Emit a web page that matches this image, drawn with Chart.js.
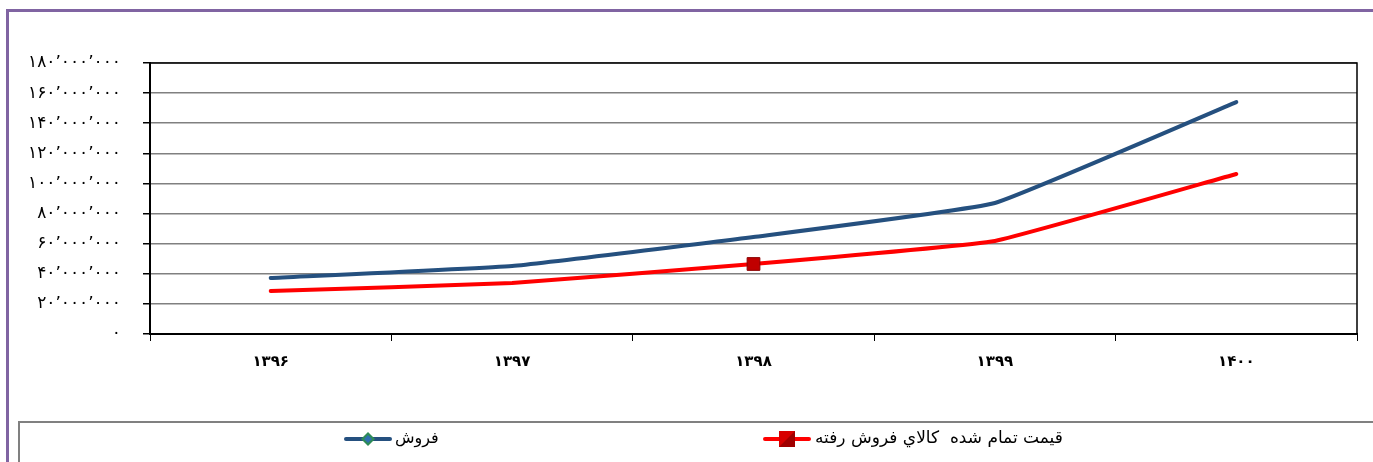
<!DOCTYPE html>
<html>
<head>
<meta charset="utf-8">
<script src="https://cdn.jsdelivr.net/npm/chart.js@4/dist/chart.umd.min.js"></script>
<style>
    html, body { margin: 0; padding: 0; background: #fff; }
    #wrap { position: relative; width: 1373px; height: 462px; overflow: hidden; }
    #frame { position: absolute; left: 6px; top: 9px; width: 1400px; height: 500px;
             border-left: 3px solid #8064A2; border-top: 3px solid #8064A2; }
    canvas { position: absolute; left: 0; top: 0; }
</style>
</head>
<body>
<div id="wrap">
    <div id="frame"></div>
    <canvas id="chart" width="1373" height="462"></canvas>
</div>
<script>
const years = ['۱۳۹۶', '۱۳۹۷', '۱۳۹۸', '۱۳۹۹', '۱۴۰۰'];
const sales = [37200000, 45200000, 64400000, 87000000, 154000000];
const costOfSales = [28600000, 33900000, 46500000, 61800000, 106300000];
const salesLabel = 'فروش';
const costLabel = 'قيمت تمام شده  كالاي فروش رفته';
const yTickLabels = ['۰', '۲۰٬۰۰۰٬۰۰۰', '۴۰٬۰۰۰٬۰۰۰', '۶۰٬۰۰۰٬۰۰۰', '۸۰٬۰۰۰٬۰۰۰',
    '۱۰۰٬۰۰۰٬۰۰۰', '۱۲۰٬۰۰۰٬۰۰۰', '۱۴۰٬۰۰۰٬۰۰۰', '۱۶۰٬۰۰۰٬۰۰۰', '۱۸۰٬۰۰۰٬۰۰۰'];

const FONT = 'DejaVu Sans';

// black border round the plot area (top and right sides)
const plotBorder = {
    id: 'plotBorder',
    afterDatasetsDraw(chart) {
        const { ctx, chartArea: a } = chart;
        ctx.save();
        ctx.strokeStyle = '#000';
        ctx.lineWidth = 1.5;
        ctx.beginPath();
        ctx.moveTo(a.left, a.top);
        ctx.lineTo(a.right, a.top);
        ctx.lineTo(a.right, a.bottom);
        ctx.stroke();
        ctx.restore();
    }
};

// legend box at the bottom, drawn from the dataset labels
const boxLegend = {
    id: 'boxLegend',
    afterDraw(chart) {
        const ctx = chart.ctx;
        const ds = chart.data.datasets;
        ctx.save();
        ctx.strokeStyle = '#808080';
        ctx.lineWidth = 2;
        ctx.strokeRect(19, 422, 1400, 60);

        const y = 439;
        // sales: line + diamond
        ctx.strokeStyle = ds[0].borderColor;
        ctx.lineWidth = 4;
        ctx.lineCap = 'round';
        ctx.beginPath(); ctx.moveTo(346, y); ctx.lineTo(390, y); ctx.stroke();
        ctx.fillStyle = '#2E8B57';
        ctx.beginPath();
        ctx.moveTo(368, y - 7); ctx.lineTo(375, y); ctx.lineTo(368, y + 7); ctx.lineTo(361, y);
        ctx.closePath(); ctx.fill();
        ctx.fillStyle = '#2F6FB0';
        ctx.beginPath();
        ctx.moveTo(368, y - 4); ctx.lineTo(372, y); ctx.lineTo(368, y + 4); ctx.lineTo(364, y);
        ctx.closePath(); ctx.fill();

        // cost: line + square
        ctx.strokeStyle = ds[1].borderColor;
        ctx.beginPath(); ctx.moveTo(765, y); ctx.lineTo(809, y); ctx.stroke();
        ctx.fillStyle = '#A00000';
        ctx.fillRect(779, y - 8, 16, 16);
        ctx.fillStyle = '#D80000';
        ctx.beginPath();
        ctx.moveTo(779, y - 8); ctx.lineTo(795, y - 8); ctx.lineTo(779, y + 8);
        ctx.closePath(); ctx.fill();

        ctx.fillStyle = '#000';
        ctx.font = '16px ' + FONT;
        ctx.textBaseline = 'middle';
        ctx.textAlign = 'left';
        ctx.fillText(ds[0].label, 395, y);
        ctx.font = '17px ' + FONT;
        ctx.fillText(ds[1].label, 815, y);
        ctx.restore();
    }
};

new Chart(document.getElementById('chart'), {
    type: 'line',
    data: {
        labels: years,
        datasets: [
            {
                label: salesLabel,
                data: sales,
                borderColor: '#25507F',
                borderWidth: 4,
                pointRadius: 0,
                tension: 0.1,
                borderCapStyle: 'round'
            },
            {
                label: costLabel,
                data: costOfSales,
                borderColor: '#FF0000',
                borderWidth: 4,
                pointStyle: 'rect',
                pointRadius: [0, 0, 9, 0, 0],
                pointBackgroundColor: '#C00000',
                pointBorderColor: '#8B0000',
                pointBorderWidth: 1,
                tension: 0.1,
                borderCapStyle: 'round'
            }
        ]
    },
    options: {
        responsive: false,
        animation: false,
        layout: { padding: { top: 63, right: 16, bottom: 0, left: 0 } },
        plugins: {
            legend: { display: false },
            tooltip: { enabled: false }
        },
        scales: {
            x: {
                offset: true,
                grid: {
                    offset: true,
                    drawOnChartArea: false,
                    tickLength: 7,
                    color: '#000',
                    lineWidth: 1
                },
                border: { color: '#000', width: 2 },
                ticks: {
                    color: '#000',
                    padding: 12,
                    font: { family: FONT, size: 15, weight: 'bold' }
                },
                afterFit(scale) { scale.height = 128; }
            },
            y: {
                min: 0,
                max: 180000000,
                ticks: {
                    stepSize: 20000000,
                    color: '#000',
                    padding: 22,
                    font: { family: FONT, size: 17 },
                    callback: (v, i) => yTickLabels[i]
                },
                grid: {
                    color: '#808080',
                    lineWidth: 1.5,
                    tickLength: 7,
                    tickColor: '#000'
                },
                border: { color: '#000', width: 2 },
                afterFit(scale) { scale.width = 150; }
            }
        }
    },
    plugins: [plotBorder, boxLegend]
});
</script>
</body>
</html>
